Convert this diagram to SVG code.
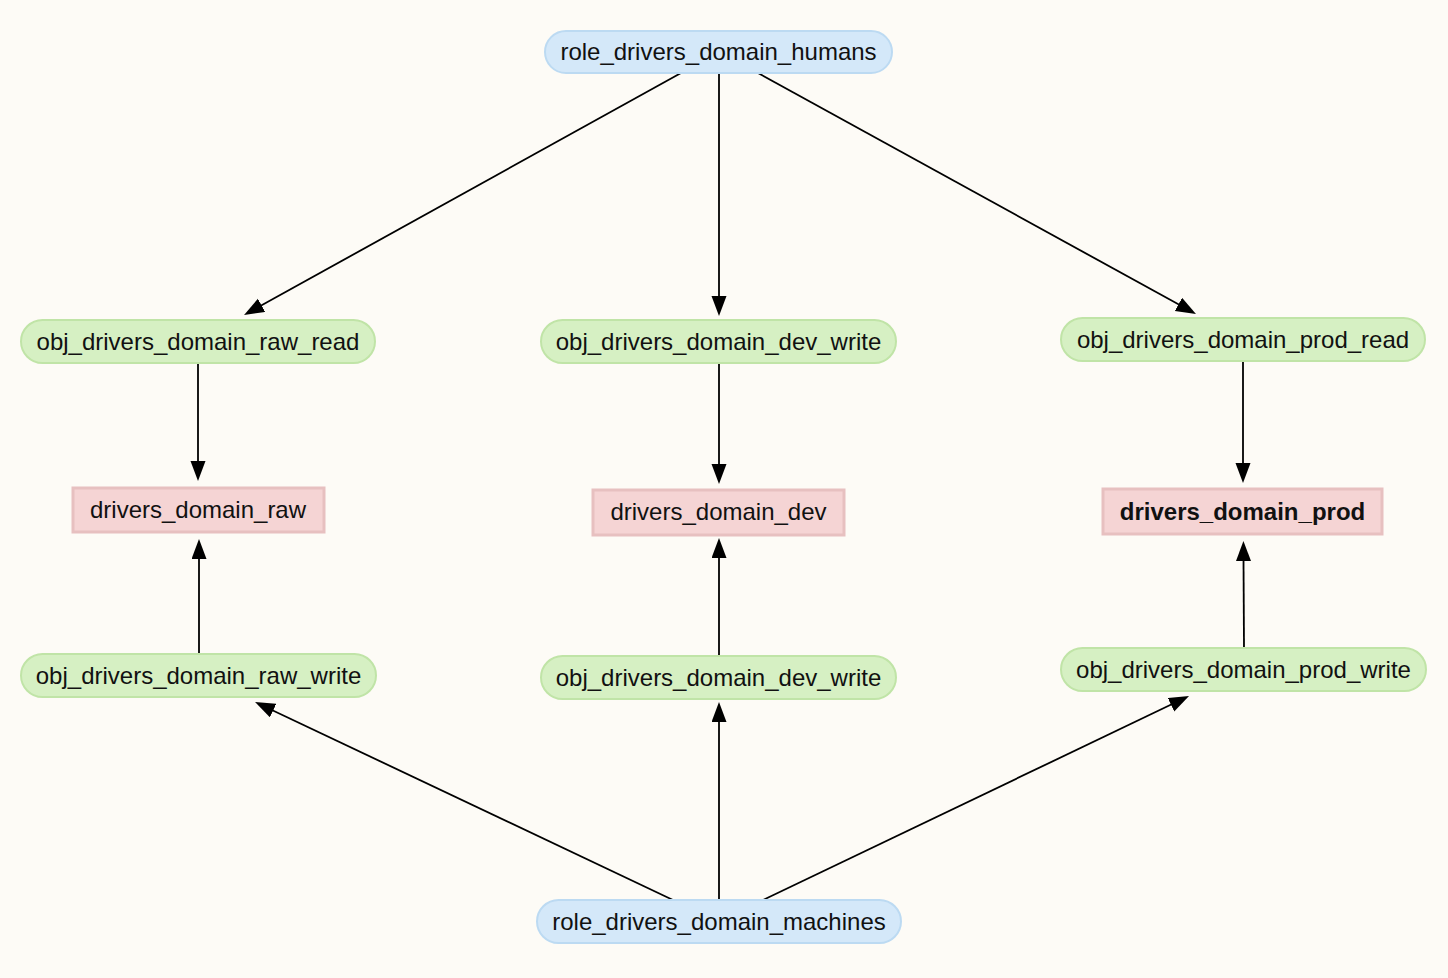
<svg xmlns="http://www.w3.org/2000/svg" width="1448" height="978" viewBox="0 0 1448 978">
<style>
text{font-family:"Liberation Sans",Arial,sans-serif;font-size:24px;fill:#111;text-anchor:middle}
.role rect{fill:#d4e8f9;stroke:#bcdaf2;stroke-width:2}
.obj rect{fill:#d6f0c3;stroke:#c0e4a7;stroke-width:2}
.db rect{fill:#f5d4d4;stroke:#e7c0c0;stroke-width:3}
.bold{font-weight:bold}
#edges line{stroke:#000;stroke-width:1.8}
</style>
<defs>
<marker id="arr" markerUnits="userSpaceOnUse" markerWidth="22" markerHeight="16" refX="2" refY="7.5" orient="auto">
<path d="M0,0 L20,7.5 L0,15 z" fill="#000"/>
</marker>
</defs>
<rect width="1448" height="978" fill="#fdfbf6"/>
<g id="edges">
<line x1="681" y1="73" x2="259.8" y2="306.3" marker-end="url(#arr)"/>
<line x1="719" y1="73" x2="719" y2="298" marker-end="url(#arr)"/>
<line x1="758" y1="73" x2="1180.2" y2="305.3" marker-end="url(#arr)"/>
<line x1="198" y1="363" x2="198" y2="463" marker-end="url(#arr)"/>
<line x1="719" y1="363" x2="719" y2="466" marker-end="url(#arr)"/>
<line x1="1243" y1="361" x2="1243" y2="465" marker-end="url(#arr)"/>
<line x1="199" y1="654" x2="199" y2="557" marker-end="url(#arr)"/>
<line x1="719" y1="656" x2="719" y2="556" marker-end="url(#arr)"/>
<line x1="1244" y1="648" x2="1243.5" y2="559" marker-end="url(#arr)"/>
<line x1="673" y1="900" x2="271.3" y2="709.7" marker-end="url(#arr)"/>
<line x1="719" y1="900" x2="719" y2="720" marker-end="url(#arr)"/>
<line x1="763" y1="900" x2="1172.8" y2="703.8" marker-end="url(#arr)"/>
</g>
<g id="role_drivers_domain_humans" class="role"><rect x="545" y="31" width="347" height="42" rx="21"/><text x="718.5" y="60">role_drivers_domain_humans</text></g>
<g id="obj_drivers_domain_raw_read" class="obj"><rect x="21" y="320" width="354" height="43" rx="21.5"/><text x="198" y="350">obj_drivers_domain_raw_read</text></g>
<g id="obj_drivers_domain_dev_write_top" class="obj"><rect x="541" y="320" width="355" height="43" rx="21.5"/><text x="718.5" y="350">obj_drivers_domain_dev_write</text></g>
<g id="obj_drivers_domain_prod_read" class="obj"><rect x="1061" y="318" width="364" height="43" rx="21.5"/><text x="1243" y="348">obj_drivers_domain_prod_read</text></g>
<g id="drivers_domain_raw" class="db"><rect x="73" y="488" width="251" height="44"/><text x="198" y="518">drivers_domain_raw</text></g>
<g id="drivers_domain_dev" class="db"><rect x="593" y="490" width="251" height="45"/><text x="718.5" y="520">drivers_domain_dev</text></g>
<g id="drivers_domain_prod" class="db"><rect x="1103" y="489" width="279" height="45"/><text x="1242.5" y="520" class="bold">drivers_domain_prod</text></g>
<g id="obj_drivers_domain_raw_write" class="obj"><rect x="21" y="654" width="355" height="43" rx="21.5"/><text x="198.5" y="684">obj_drivers_domain_raw_write</text></g>
<g id="obj_drivers_domain_dev_write_bottom" class="obj"><rect x="541" y="656" width="355" height="43" rx="21.5"/><text x="718.5" y="686">obj_drivers_domain_dev_write</text></g>
<g id="obj_drivers_domain_prod_write" class="obj"><rect x="1061" y="648" width="365" height="43" rx="21.5"/><text x="1243.5" y="678">obj_drivers_domain_prod_write</text></g>
<g id="role_drivers_domain_machines" class="role"><rect x="537" y="900" width="364" height="43" rx="21.5"/><text x="719" y="930">role_drivers_domain_machines</text></g>
</svg>
